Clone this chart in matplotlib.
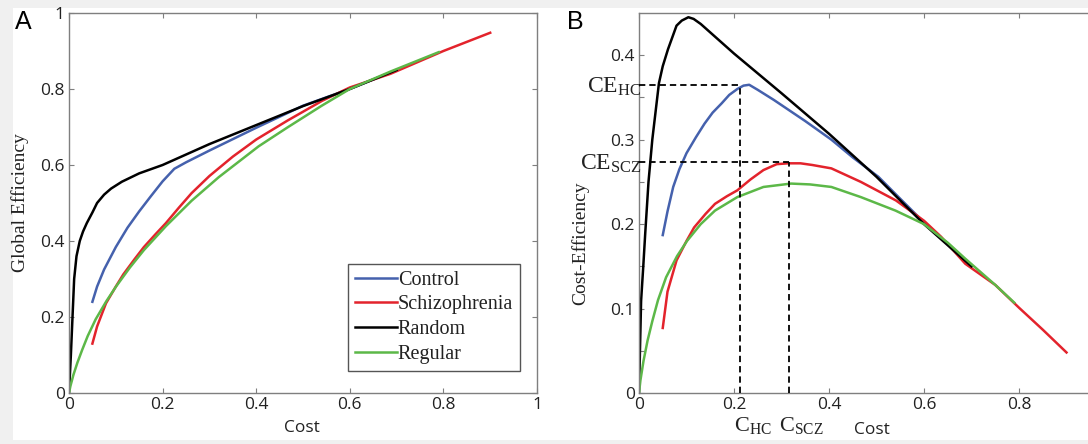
import numpy as np
import matplotlib
matplotlib.use('Agg')
import matplotlib.pyplot as plt
from matplotlib.patches import Rectangle
import matplotlib.transforms as mtransforms

# ---- data ----
# Panel A: global efficiency vs cost
cost_ctrl_a = [0.05, 0.06, 0.075, 0.1, 0.125, 0.15, 0.175, 0.2, 0.225, 0.25, 0.3, 0.35, 0.4, 0.5, 0.6, 0.7]
ge_ctrl = [0.24, 0.28, 0.325, 0.384, 0.435, 0.478, 0.518, 0.557, 0.59, 0.607, 0.638, 0.668, 0.698, 0.756, 0.8, 0.85]

cost_scz_a = [0.05, 0.06, 0.079, 0.1, 0.116, 0.14, 0.16, 0.185, 0.207, 0.235, 0.262, 0.3, 0.35, 0.4,
              0.467, 0.541, 0.6, 0.687, 0.8, 0.9]
ge_scz = [0.13, 0.175, 0.236, 0.28, 0.312, 0.352, 0.384, 0.418, 0.447, 0.488, 0.526, 0.571, 0.622, 0.667,
          0.717, 0.769, 0.804, 0.84, 0.9, 0.948]

cost_rand_a = [0, 0.004, 0.0075, 0.011, 0.016, 0.023, 0.03, 0.038, 0.05, 0.06, 0.075, 0.09, 0.113, 0.15,
               0.2, 0.3, 0.4, 0.5, 0.6, 0.7]
ge_rand = [0, 0.1, 0.2, 0.3, 0.36, 0.40, 0.425, 0.447, 0.475, 0.5, 0.522, 0.538, 0.556, 0.578,
           0.6, 0.655, 0.705, 0.755, 0.8, 0.85]

cost_reg_a = [0, 0.003, 0.0095, 0.018, 0.028, 0.04, 0.057, 0.08, 0.101, 0.13, 0.16, 0.207, 0.262, 0.32,
              0.405, 0.467, 0.54, 0.6, 0.687, 0.79]
ge_reg = [0, 0.018, 0.048, 0.08, 0.113, 0.15, 0.194, 0.242, 0.281, 0.33, 0.376, 0.439, 0.506, 0.568,
          0.649, 0.699, 0.756, 0.8, 0.846, 0.897]

# Panel B: cost-efficiency vs cost
cost_ctrl_b = [0.05, 0.06, 0.072, 0.085, 0.1, 0.12, 0.138, 0.155, 0.174, 0.19, 0.207, 0.22, 0.232, 0.25,
               0.284, 0.35, 0.405, 0.45, 0.504, 0.55, 0.6, 0.65, 0.7]
ce_ctrl = [0.187, 0.215, 0.244, 0.265, 0.284, 0.303, 0.319, 0.332, 0.343, 0.353, 0.36, 0.364, 0.365, 0.359,
           0.347, 0.322, 0.3, 0.279, 0.256, 0.23, 0.202, 0.176, 0.15]

cost_scz_b = [0.05, 0.06, 0.079, 0.1, 0.116, 0.14, 0.16, 0.185, 0.207, 0.235, 0.262, 0.29, 0.314, 0.34,
              0.365, 0.405, 0.467, 0.541, 0.6, 0.636, 0.687, 0.75, 0.8, 0.85, 0.9]
ce_scz = [0.077, 0.12, 0.157, 0.18, 0.196, 0.212, 0.224, 0.233, 0.24, 0.253, 0.264, 0.271, 0.272, 0.272,
          0.27, 0.266, 0.25, 0.228, 0.204, 0.185, 0.153, 0.128, 0.101, 0.075, 0.048]

cost_rand_b = [0, 0.002, 0.0044, 0.009, 0.013, 0.02, 0.028, 0.042, 0.05, 0.061, 0.079, 0.09, 0.104, 0.115,
               0.13, 0.2, 0.3, 0.4, 0.5, 0.6, 0.7]
ce_rand = [0, 0.05, 0.109, 0.15, 0.188, 0.25, 0.3, 0.367, 0.387, 0.407, 0.435, 0.441, 0.445, 0.443,
           0.437, 0.402, 0.355, 0.307, 0.256, 0.2, 0.15]

cost_reg_b = [0, 0.003, 0.0095, 0.018, 0.028, 0.04, 0.057, 0.08, 0.101, 0.13, 0.16, 0.207, 0.262, 0.32,
              0.36, 0.405, 0.467, 0.54, 0.6, 0.65, 0.687, 0.75, 0.79]
ce_reg = [0, 0.015, 0.038, 0.062, 0.085, 0.11, 0.137, 0.162, 0.18, 0.2, 0.216, 0.232, 0.244, 0.248,
          0.247, 0.244, 0.232, 0.216, 0.2, 0.178, 0.159, 0.128, 0.107]

# optimum points marked with dashed lines
c_hc, ce_hc = 0.213, 0.365
c_scz, ce_scz_peak = 0.316, 0.274

labels = ['Control', 'Schizophrenia', 'Random', 'Regular']
colors = ['#4561ad', '#e3232c', '#000000', '#5cb848']

plt.rcParams['mathtext.fontset'] = 'custom'
plt.rcParams['mathtext.rm'] = 'Liberation Serif'
plt.rcParams['mathtext.it'] = 'Liberation Serif:italic'

sans = 'Open Sans'
serif = 'Liberation Serif'
txt = '#222222'

fig = plt.figure(figsize=(10.88, 4.44), dpi=100, facecolor='#f0f0f0')
fig.patches.append(Rectangle((13/1088, 4/444), 1 - 13/1088, 1 - 12/444,
                             transform=fig.transFigure, facecolor='white',
                             edgecolor='none', zorder=-10))

axA = fig.add_axes([69/1088, 51/444, 468/1088, 380/444])
axB = fig.add_axes([639/1088, 51/444, 475/1088, 380/444])


def style(ax):
    for s in ax.spines.values():
        s.set_color('#7f7f7f')
        s.set_linewidth(1.0)
    ax.tick_params(direction='in', length=3.5, width=0.8, color='#7f7f7f',
                   top=True, right=True, labelsize=12.5, pad=3)
    ax.tick_params(which='minor', direction='in', length=3.5, width=0.8,
                   color='#7f7f7f', right=True)
    for t in ax.get_xticklabels() + ax.get_yticklabels():
        t.set_fontfamily(sans)
        t.set_color(txt)
    ax.set_facecolor('white')


lw = 1.8
# panel A
axA.plot(cost_ctrl_a, ge_ctrl, color=colors[0], lw=lw, label=labels[0])
axA.plot(cost_scz_a, ge_scz, color=colors[1], lw=lw, label=labels[1])
axA.plot(cost_rand_a, ge_rand, color=colors[2], lw=lw, label=labels[2])
axA.plot(cost_reg_a, ge_reg, color=colors[3], lw=lw, label=labels[3])
axA.set_xlim(0, 1)
axA.set_ylim(0, 1)
axA.set_xticks([0, 0.2, 0.4, 0.6, 0.8, 1])
axA.set_xticklabels(['0', '0.2', '0.4', '0.6', '0.8', '1'])
axA.set_yticks([0, 0.2, 0.4, 0.6, 0.8, 1])
axA.set_yticklabels(['0', '0.2', '0.4', '0.6', '0.8', '1'])
style(axA)
axA.set_xlabel('Cost', fontfamily=sans, fontsize=12.5, color=txt)
axA.xaxis.set_label_coords(0.498, -0.072)
axA.set_ylabel('Global Efficiency', fontfamily=serif, fontsize=14, color=txt)
axA.yaxis.set_label_coords(-0.086, 0.5)
leg = axA.legend(loc='lower right', bbox_to_anchor=(0.964, 0.058), borderaxespad=0,
                 prop={'family': serif, 'size': 14.5}, handlelength=2.1, handletextpad=0.05,
                 labelspacing=0.28, borderpad=0.35, fancybox=False, framealpha=1)
leg.get_frame().set_edgecolor('#555555')
leg.get_frame().set_linewidth(1.0)
for t in leg.get_texts():
    t.set_color(txt)

# panel B
axB.plot(cost_ctrl_b, ce_ctrl, color=colors[0], lw=lw)
axB.plot(cost_scz_b, ce_scz, color=colors[1], lw=lw)
axB.plot(cost_rand_b, ce_rand, color=colors[2], lw=lw)
axB.plot(cost_reg_b, ce_reg, color=colors[3], lw=lw)
axB.set_xlim(0, 1)
axB.set_ylim(0, 0.45)
axB.set_xticks([0, 0.2, 0.4, 0.6, 0.8])
axB.set_xticklabels(['0', '0.2', '0.4', '0.6', '0.8'])
axB.set_yticks([0, 0.1, 0.2, 0.3, 0.4])
axB.set_yticklabels(['0', '0.1', '0.2', '0.3', '0.4'])
axB.set_yticks([0.05, 0.15, 0.25, 0.35], minor=True)
style(axB)

dash = dict(color='black', lw=1.3, ls=(0, (3.5, 2.2)), zorder=5)
axB.plot([0, c_hc], [ce_hc, ce_hc], **dash)
axB.plot([c_hc, c_hc], [0, ce_hc], **dash)
axB.plot([0, c_scz], [ce_scz_peak, ce_scz_peak], **dash)
axB.plot([c_scz, c_scz], [0, ce_scz_peak], **dash)

lt = mtransforms.blended_transform_factory(axB.transAxes, axB.transData)
axB.text(0.004, ce_hc - 0.002, r'$\mathrm{CE}_{\mathrm{HC}}$', transform=lt,
         ha='right', va='center', fontsize=17, color=txt)
axB.text(0.006, ce_scz_peak - 0.002, r'$\mathrm{CE}_{\mathrm{SCZ}}$', transform=lt,
         ha='right', va='center', fontsize=17, color=txt)
bt = mtransforms.blended_transform_factory(axB.transData, axB.transAxes)
axB.text(0.24, -0.085, r'$\mathrm{C}_{\mathrm{HC}}$', transform=bt, ha='center', va='center',
         fontsize=16, color=txt)
axB.text(0.342, -0.085, r'$\mathrm{C}_{\mathrm{SCZ}}$', transform=bt, ha='center', va='center',
         fontsize=16, color=txt)
axB.set_xlabel('Cost', fontfamily=sans, fontsize=12.5, color=txt)
axB.xaxis.set_label_coords(0.49, -0.075)
axB.set_ylabel('Cost-Efficiency', fontfamily=serif, fontsize=14, color=txt)
axB.yaxis.set_label_coords(-0.105, 0.395)

fig.text(15/1088, 1 - 29/444, 'A', fontfamily='Liberation Sans', fontsize=18, color='black')
fig.text(567/1088, 1 - 29/444, 'B', fontfamily='Liberation Sans', fontsize=18, color='black')

fig.savefig('out.png', dpi=100, facecolor=fig.get_facecolor())
